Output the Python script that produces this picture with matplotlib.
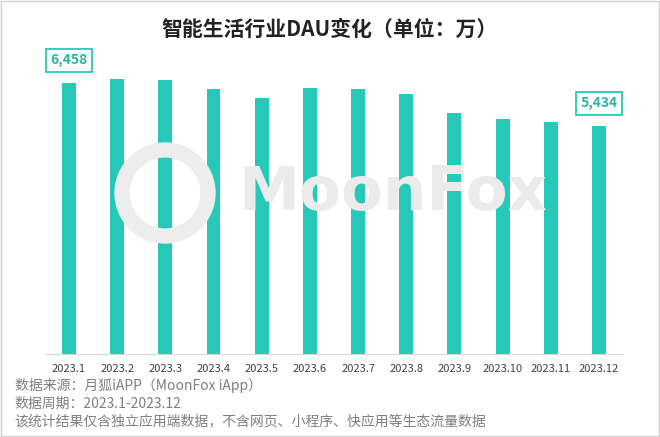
import matplotlib
matplotlib.use("Agg")
import matplotlib.pyplot as plt
from matplotlib.patches import Rectangle, Circle

plt.rcParams['font.family'] = ['Noto Sans CJK SC', 'DejaVu Sans']

months = ['2023.1', '2023.2', '2023.3', '2023.4', '2023.5', '2023.6',
          '2023.7', '2023.8', '2023.9', '2023.10', '2023.11', '2023.12']
dau = [6458, 6537, 6521, 6299, 6091, 6323, 6299, 6196, 5734, 5583, 5519, 5434]
title = '智能生活行业DAU变化（单位：万）'
notes = ['数据来源：月狐iAPP（MoonFox iApp）',
         '数据周期：2023.1-2023.12',
         '该统计结果仅含独立应用端数据，不含网页、小程序、快应用等生态流量数据']

teal = '#26c9b8'

fig = plt.figure(figsize=(6.6, 4.37), dpi=100)
ax = fig.add_axes([0.068, 0.19, 0.876, 0.673])

x = range(len(months))
ax.bar(x, dau, width=0.29, color=teal, zorder=2)
ax.set_ylim(0, 7000)
ax.set_xlim(-0.5, len(months) - 0.5)
ax.set_xticks(list(x))
ax.set_xticklabels(months, fontsize=8, color='#404040')
ax.tick_params(axis='x', length=0, pad=7)
ax.set_yticks([])
ax.patch.set_alpha(0)
for s in ['top', 'right', 'left']:
    ax.spines[s].set_visible(False)
ax.spines['bottom'].set_color('#d9d9d9')

# boxed labels on first and last bars
for i in [0, len(dau) - 1]:
    ax.annotate(f'{dau[i]:,}', (i, dau[i]), xytext=(0, 16), textcoords='offset points',
                ha='center', va='center', fontsize=10, fontweight='bold', color='#2bb3a4',
                bbox=dict(boxstyle='square,pad=0.3', fc='white', ec=teal, lw=1.3))

fig.text(0.5, 0.932, title, ha='center', va='center', fontsize=15, fontweight='bold',
         color='#222222')

# watermark
fig.text(0.595, 0.558, 'MoonFox', ha='center', va='center', fontsize=44, fontweight='bold',
         family='DejaVu Sans', color='#ebebeb', zorder=0)
fig.patches.append(Circle((1.65, 2.44), 0.43, transform=fig.dpi_scale_trans,
                          fc='none', ec='#ededed', lw=11, zorder=0))

for k, line in enumerate(notes):
    fig.text(0.022, 0.117 - k * 0.041, line, ha='left', va='center', fontsize=10,
             color='#7f7f7f', style='italic')

fig.patches.append(Rectangle((0.002, 0.002), 0.996, 0.996, transform=fig.transFigure,
                             fill=False, ec='#d0d0d0', lw=1))

fig.savefig('out.png', dpi=100)
